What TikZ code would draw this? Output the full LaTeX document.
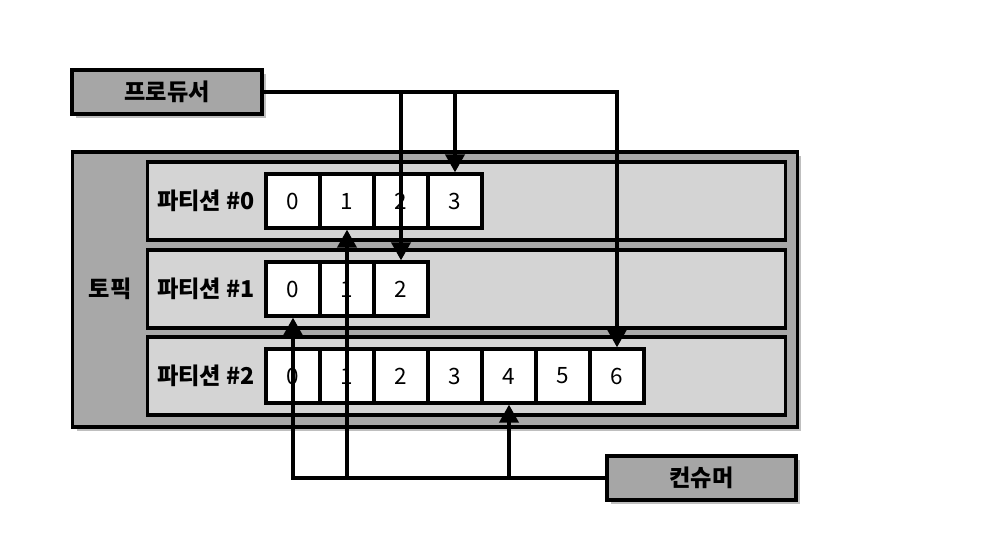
\documentclass[tikz,border=0pt]{standalone}
\usepackage{fontspec}
\setmainfont{Noto Sans CJK KR}
\usetikzlibrary{arrows.meta,shadows}

\tikzset{
  actor/.style={draw, line width=2.2pt, fill=black!35, font=\fontsize{16.5}{19}\selectfont\bfseries,
    minimum height=1.1cm, inner sep=0pt,
    drop shadow={shadow xshift=3pt, shadow yshift=-3pt, opacity=0.25, fill=black}},
  partrow/.style={draw, line width=2.2pt, fill=black!17, minimum width=15.925cm, minimum height=1.95cm, inner sep=0pt},
  rowlabel/.style={font=\fontsize{16.5}{19}\selectfont\bfseries},
  cell/.style={draw, line width=2.2pt, fill=white, minimum size=1.35cm, inner sep=0pt, font=\fontsize{16}{18}\selectfont},
  link/.style={line width=3pt, -{Triangle[length=0.45cm, width=0.47cm]}},
}

\begin{document}
\begin{tikzpicture}[x=0.025cm, y=-0.025cm]
  \useasboundingbox (0,0) rectangle (994,552);

  % producer and consumer
  \node[actor, minimum width=4.75cm] (prod) at (167,92) {프로듀서};
  \node[actor, minimum width=4.725cm] (cons) at (701.5,478) {컨슈머};

  % topic with its partitions
  \node[draw, line width=2.2pt, fill=black!34, minimum width=18.1cm, minimum height=6.875cm,
    drop shadow={shadow xshift=3pt, shadow yshift=-3pt, opacity=0.25, fill=black}] (topic) at (435,289.5) {};
  \node[rowlabel] (topiclabel) at (110,289) {토픽};

  \foreach \p/\y/\n in {0/201/3, 1/289/2, 2/376/6} {
    \node[partrow] (row\p) at (466.5,\y) {};
    \node[rowlabel] (rowlabel\p) at (206,\y) {파티션 \#\p};
    \foreach \i in {0,...,\n}
      \node[cell] (c\p-\i) at ({293+54*\i},\y) {\i};
  }

  % writes
  \draw[link] (prod.east) -| (c2-6.north);
  \draw[link] (c1-2 |- prod.east) -- (c1-2.north);
  \draw[link] (c0-3 |- prod.east) -- (c0-3.north);

  % reads
  \draw[link] (cons.west) -| (c1-0.south);
  \draw[link] (c0-1 |- cons.west) -- (c0-1.south);
  \draw[link] (c2-4 |- cons.west) -- (c2-4.south);
\end{tikzpicture}
\end{document}
